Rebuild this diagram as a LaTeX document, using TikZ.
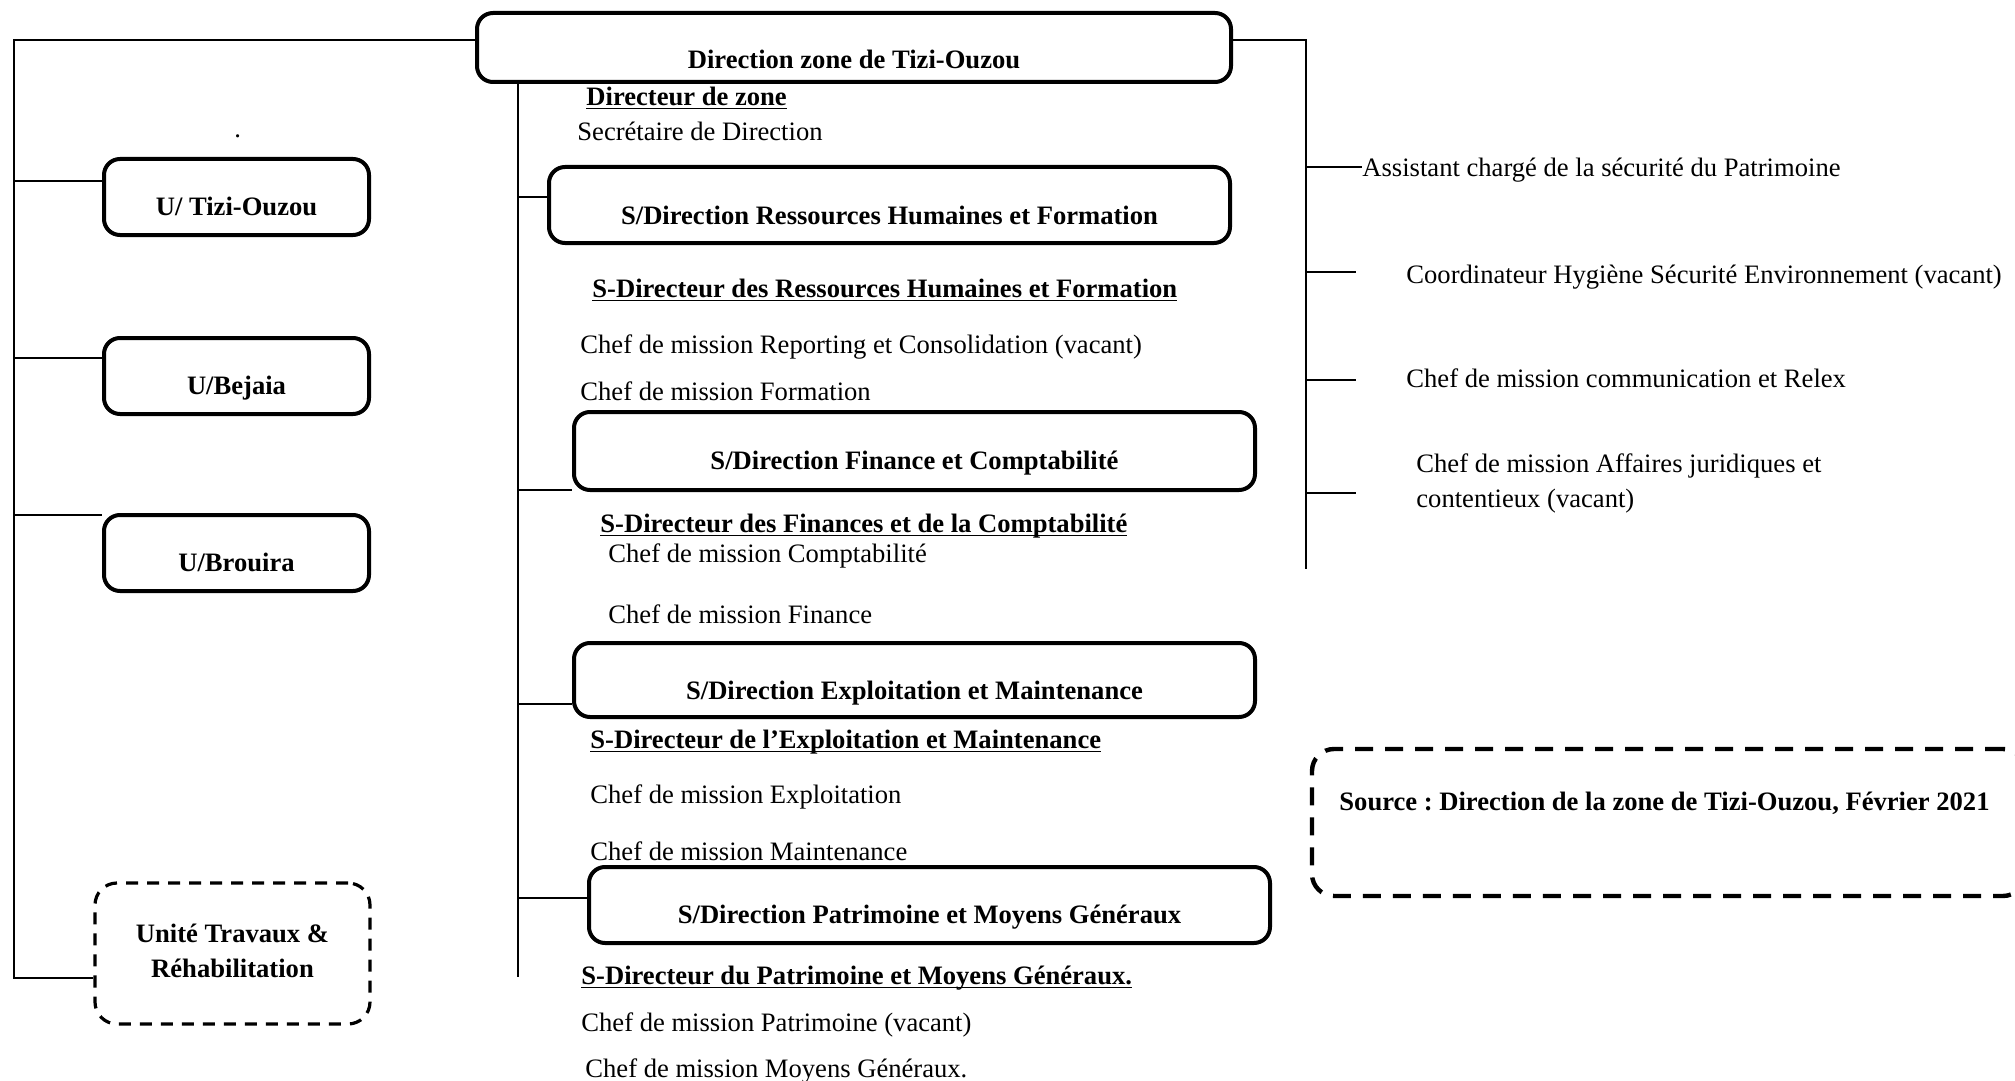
\documentclass[tikz,border=0pt]{standalone}
\usepackage{fontspec}
\setmainfont{Liberation Serif}
\frenchspacing
\newsavebox\ulbox
\newcommand\ulx[1]{\leavevmode\sbox\ulbox{#1}\rlap{\rule[-1.8pt]{\wd\ulbox}{0.9pt}}\usebox\ulbox}
\newcommand\basefont{\fontsize{13.3}{17.5}\selectfont}
\begin{document}
\begin{tikzpicture}[x=0.5pt,y=-0.5pt,font=\basefont]
\tikzset{
 box/.style={draw, line width=2pt, rounded corners=8pt, inner sep=0pt},
 dbox/.style={draw, line width=1.6pt, dash pattern=on 6pt off 4.5pt, rounded corners=11pt, inner sep=0pt},
 link/.style={line width=0.9pt},
 txt/.style={anchor=west, inner sep=0pt, text height=0.68em, text depth=0.2em, yshift=-2.5pt},
 btxt/.style={txt, font=\basefont\bfseries},
 ctr/.style={inner sep=0pt, font=\basefont\bfseries, text height=0.68em, text depth=0.2em, yshift=-2.5pt},
}
\useasboundingbox (0,0) rectangle (2015,1081);

% boxes
\node[box, minimum width=377pt, minimum height=34.5pt] (top) at (854,47.5) {};
\node[ctr] at (854,59) {Direction zone de Tizi-Ouzou};

\node[box, minimum width=132.5pt, minimum height=38pt] (ut) at (236.5,197) {};
\node[ctr] at (236.5,206) {U/ Tizi-Ouzou};
\node[box, minimum width=132.5pt, minimum height=38pt] (ub) at (236.5,376) {};
\node[ctr] at (236.5,385) {U/Bejaia};
\node[box, minimum width=132.5pt, minimum height=38pt] (ubr) at (236.5,553) {};
\node[ctr] at (236.5,562) {U/Brouira};
\node[dbox, minimum width=137.5pt, minimum height=70.5pt] (utr) at (232.5,953.5) {};
\node[inner sep=0pt, font=\basefont\bfseries, align=center] at (232.5,951) {Unité Travaux \&\\Réhabilitation};
\node[txt] at (234,128) {.};

\node[box, minimum width=340.5pt, minimum height=38pt] (rh) at (889.5,205) {};
\node[ctr] at (889.5,215) {S/Direction Ressources Humaines et Formation};
\node[box, minimum width=340.5pt, minimum height=39pt] (fc) at (914.5,451) {};
\node[ctr] at (914.5,460) {S/Direction Finance et Comptabilité};
\node[box, minimum width=340.5pt, minimum height=37pt] (em) at (914.5,680) {};
\node[ctr] at (914.5,690) {S/Direction Exploitation et Maintenance};
\node[box, minimum width=340.5pt, minimum height=38pt] (pm) at (929.5,905) {};
\node[ctr] at (929.5,914) {S/Direction Patrimoine et Moyens Généraux};

\node[dbox, line width=2.2pt, dash pattern=on 9pt off 6pt, minimum width=356.5pt, minimum height=73.5pt] (src) at (1668.5,822.5) {};
\node[btxt] at (1339,801) {Source : Direction de la zone de Tizi-Ouzou, Février 2021};

% middle texts
\node[btxt] at (586,96) {\ulx{Directeur de zone}};
\node[txt] at (577,131) {Secrétaire de Direction};
\node[btxt] at (592,288) {\ulx{S-Directeur des Ressources Humaines et Formation}};
\node[txt] at (580,344) {Chef de mission Reporting et Consolidation (vacant)};
\node[txt] at (580,391) {Chef de mission Formation};
\node[btxt] at (600,523) {\ulx{S-Directeur des Finances et de la Comptabilité}};
\node[txt] at (608,553) {Chef de mission Comptabilité};
\node[txt] at (608,614) {Chef de mission Finance};
\node[btxt] at (590,739) {\ulx{S-Directeur de l’Exploitation et Maintenance}};
\node[txt] at (590,794) {Chef de mission Exploitation};
\node[txt] at (590,851) {Chef de mission Maintenance};
\node[btxt] at (581,975) {\ulx{S-Directeur du Patrimoine et Moyens Généraux.}};
\node[txt] at (581,1022) {Chef de mission Patrimoine (vacant)};
\node[txt] at (585,1068) {Chef de mission Moyens Généraux.};

% right texts
\node[txt] (r1) at (1362,167) {Assistant chargé de la sécurité du Patrimoine};
\node[txt] (r2) at (1406,274) {Coordinateur Hygiène Sécurité Environnement (vacant)};
\node[txt] (r3) at (1406,378) {Chef de mission communication et Relex};
\node[inner sep=0pt, anchor=west, align=left, yshift=-2.5pt] (r4) at (1416,478) {Chef de mission Affaires juridiques et\\contentieux (vacant)};

% left tree
\coordinate (L0) at (14,40);
\coordinate (L1) at (14,978);
\draw[link] (top.west |- L0) -- (L0) -- (L1) -- (utr.west |- L1);
\draw[link] (14,181) -- (ut.west |- 0,181);
\draw[link] (14,358) -- (ub.west |- 0,358);
\draw[link] (14,515) -- (ubr.west |- 0,515);

% middle tree
\coordinate (M0) at (518,82);
\coordinate (M1) at (518,977);
\draw[link] (M0) -- (M1);
\draw[link] (518,197) -- (rh.west |- 0,197);
\draw[link] (518,490) -- (fc.west |- 0,490);
\draw[link] (518,704) -- (em.west |- 0,704);
\draw[link] (518,898) -- (pm.west |- 0,898);

% right tree
\coordinate (R0) at (1306,40);
\coordinate (R1) at (1306,569);
\draw[link] (top.east |- R0) -- (R0) -- (R1);
\draw[link] (1306,167) -- (r1.west |- 0,167);
\draw[link] (1306,272) -- (1356,272);
\draw[link] (1306,380) -- (1356,380);
\draw[link] (1306,493) -- (1356,493);
\end{tikzpicture}
\end{document}
